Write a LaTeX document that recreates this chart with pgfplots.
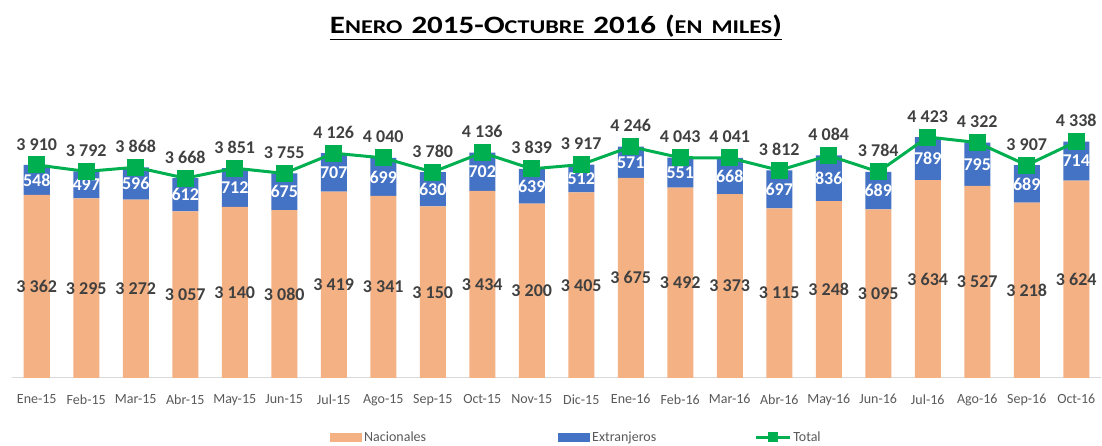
\documentclass[border=0pt]{standalone}
\usepackage{pgfplots}
\pgfplotsset{compat=1.18}
\usepackage{pgfplotstable}
\usepackage{graphicx}
\usepackage{fontspec}
\setmainfont{Carlito}
\definecolor{nac}{HTML}{F4B183}
\definecolor{ext}{HTML}{4472C4}
\definecolor{tot}{HTML}{00B050}
\definecolor{lbl}{HTML}{404040}
\definecolor{tck}{HTML}{595959}
\definecolor{axl}{HTML}{D9D9D9}

\pgfplotstableread{
x nac ext tot
0 3362 548 3910
1 3295 497 3792
2 3272 596 3868
3 3057 612 3668
4 3140 712 3851
5 3080 675 3755
6 3419 707 4126
7 3341 699 4040
8 3150 630 3780
9 3434 702 4136
10 3200 639 3839
11 3405 512 3917
12 3675 571 4246
13 3492 551 4043
14 3373 668 4041
15 3115 697 3812
16 3248 836 4084
17 3095 689 3784
18 3634 789 4423
19 3527 795 4322
20 3218 689 3907
21 3624 714 4338
}\data

\newcommand{\bigT}[1]{{\fontsize{25}{28}\selectfont #1}}
\newcommand{\smlT}[1]{{\fontsize{19.5}{22}\selectfont #1}}

\begin{document}
\begin{tikzpicture}
\useasboundingbox (0,0) rectangle (1102pt,446pt);
\pgfplotsset{common/.style={at={(12pt,68pt)}, anchor=south west, scale only axis,
  width=1089pt, height=316pt, xmin=-0.5, xmax=21.5, ymin=0, ymax=5800}}
\begin{axis}[common, ybar stacked, bar width=26pt,
  axis y line=none, axis x line*=bottom,
  x axis line style={draw=axl, line width=1pt},
  xtick=data, major tick length=0pt,
  xticklabels={Ene-15,Feb-15,Mar-15,Abr-15,May-15,Jun-15,Jul-15,Ago-15,Sep-15,Oct-15,Nov-15,Dic-15,Ene-16,Feb-16,Mar-16,Abr-16,May-16,Jun-16,Jul-16,Ago-16,Sep-16,Oct-16},
  xticklabel style={font=\fontsize{14}{16}\selectfont, color=tck, yshift=-13pt},
  legend columns=3,
  legend style={at={(0.292,-0.187)}, anchor=west, draw=none, fill=none, inner sep=0pt,
    font=\fontsize{14}{16}\selectfont, text=tck,
    /tikz/column 2/.style={column sep=130pt},
    /tikz/column 4/.style={column sep=96pt}},
  ]
\addplot[fill=nac, draw=none, legend image code/.code={\fill[nac] (0pt,-4.5pt) rectangle (32pt,4.5pt);}] table[x=x,y=nac]{\data};
\addlegendentry{Nacionales}
\addplot[fill=ext, draw=none, legend image code/.code={\fill[ext] (0pt,-4.5pt) rectangle (32pt,4.5pt);}] table[x=x,y=ext]{\data};
\addlegendentry{Extranjeros}
\addlegendimage{legend image code/.code={\draw[tot, line width=3pt] (0pt,0pt) -- (34pt,0pt); \fill[tot] (12.5pt,-4.5pt) rectangle (21.5pt,4.5pt);}}
\addlegendentry{Total}
\end{axis}
\begin{axis}[common, hide axis, clip=false,
  /pgf/number format/1000 sep={\ }, /pgf/number format/assume math mode=true]
\addplot[draw=none, nodes near coords, point meta=explicit,
  every node near coord/.style={font=\bfseries\fontsize{18}{20}\selectfont, text=lbl, anchor=center}]
  table[x=x, y expr=\thisrow{nac}/2, meta=nac]{\data};
\addplot[draw=none, nodes near coords, point meta=explicit,
  every node near coord/.style={font=\bfseries\fontsize{18}{20}\selectfont, text=white, anchor=center}]
  table[x=x, y expr=\thisrow{nac}+\thisrow{ext}/2, meta=ext]{\data};
\addplot[tot, line width=3pt, mark=square*, mark size=7pt, mark options={solid},
  nodes near coords, point meta=explicit,
  every node near coord/.style={font=\bfseries\fontsize{18}{20}\selectfont, text=lbl, anchor=south, yshift=10pt}]
  table[x=x, y=tot, meta=tot]{\data};
\end{axis}
\node[anchor=base, text=black, inner sep=0pt] at (556pt,412pt) {\resizebox{452pt}{\height}{\bfseries\underline{\bigT{E}\smlT{NERO}\hspace{5pt} \bigT{2015-O}\smlT{CTUBRE}\hspace{5pt} \bigT{2016}\hspace{5pt} \bigT{(}\smlT{EN\hspace{3pt} MILES}\bigT{)}}}};
\end{tikzpicture}
\end{document}
